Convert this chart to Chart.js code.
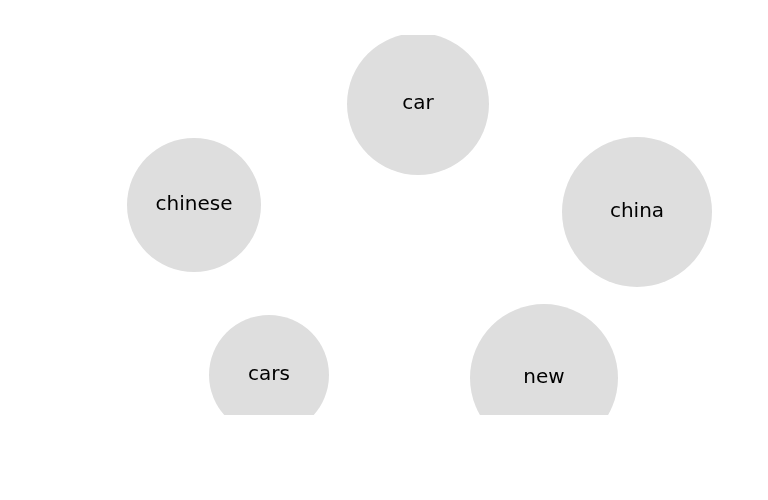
<!DOCTYPE html>
<html>
<head>
<meta charset="utf-8">
<script src="https://cdn.jsdelivr.net/npm/chart.js@4"></script>
<style>
  html, body { margin: 0; padding: 0; background: #fff; }
  #wrap { width: 768px; height: 500px; }
</style>
</head>
<body>
<div id="wrap"><canvas id="c"></canvas></div>
<script>
const words = ['car', 'chinese', 'china', 'cars', 'new'];
const xs = [418, 194, 637, 269, 544];
const ys = [331, 230, 223, 60, 57];
const sizes = [71, 67, 75, 60, 74];

const labelPlugin = {
    id: 'bubbleLabels',
    afterDatasetsDraw: function (chart) {
        const ctx = chart.ctx;
        const meta = chart.getDatasetMeta(0);
        ctx.save();
        ctx.font = '20px "DejaVu Sans"';
        ctx.fillStyle = '#000';
        ctx.textAlign = 'center';
        ctx.textBaseline = 'middle';
        meta.data.forEach(function (el, i) {
            ctx.fillText(words[i], el.x, el.y);
        });
        ctx.restore();
    }
};

new Chart(document.getElementById('c'), {
    type: 'bubble',
    data: {
        datasets: [{
            data: words.map(function (w, i) { return { x: xs[i], y: ys[i], r: sizes[i] }; }),
            backgroundColor: '#dedede',
            borderWidth: 0,
            hoverBorderWidth: 0,
            clip: { left: 75, right: 75, top: 40, bottom: -10 }
        }]
    },
    options: {
        responsive: true,
        maintainAspectRatio: false,
        animation: false,
        scales: {
            // the bubble controller pads the area by the largest radius, so the ranges are widened to match
            x: { type: 'linear', min: 75, max: 693, display: false },
            y: { type: 'linear', min: 10, max: 360, display: false }
        },
        plugins: { legend: { display: false }, tooltip: { enabled: false } }
    },
    plugins: [labelPlugin]
});
</script>
</body>
</html>
